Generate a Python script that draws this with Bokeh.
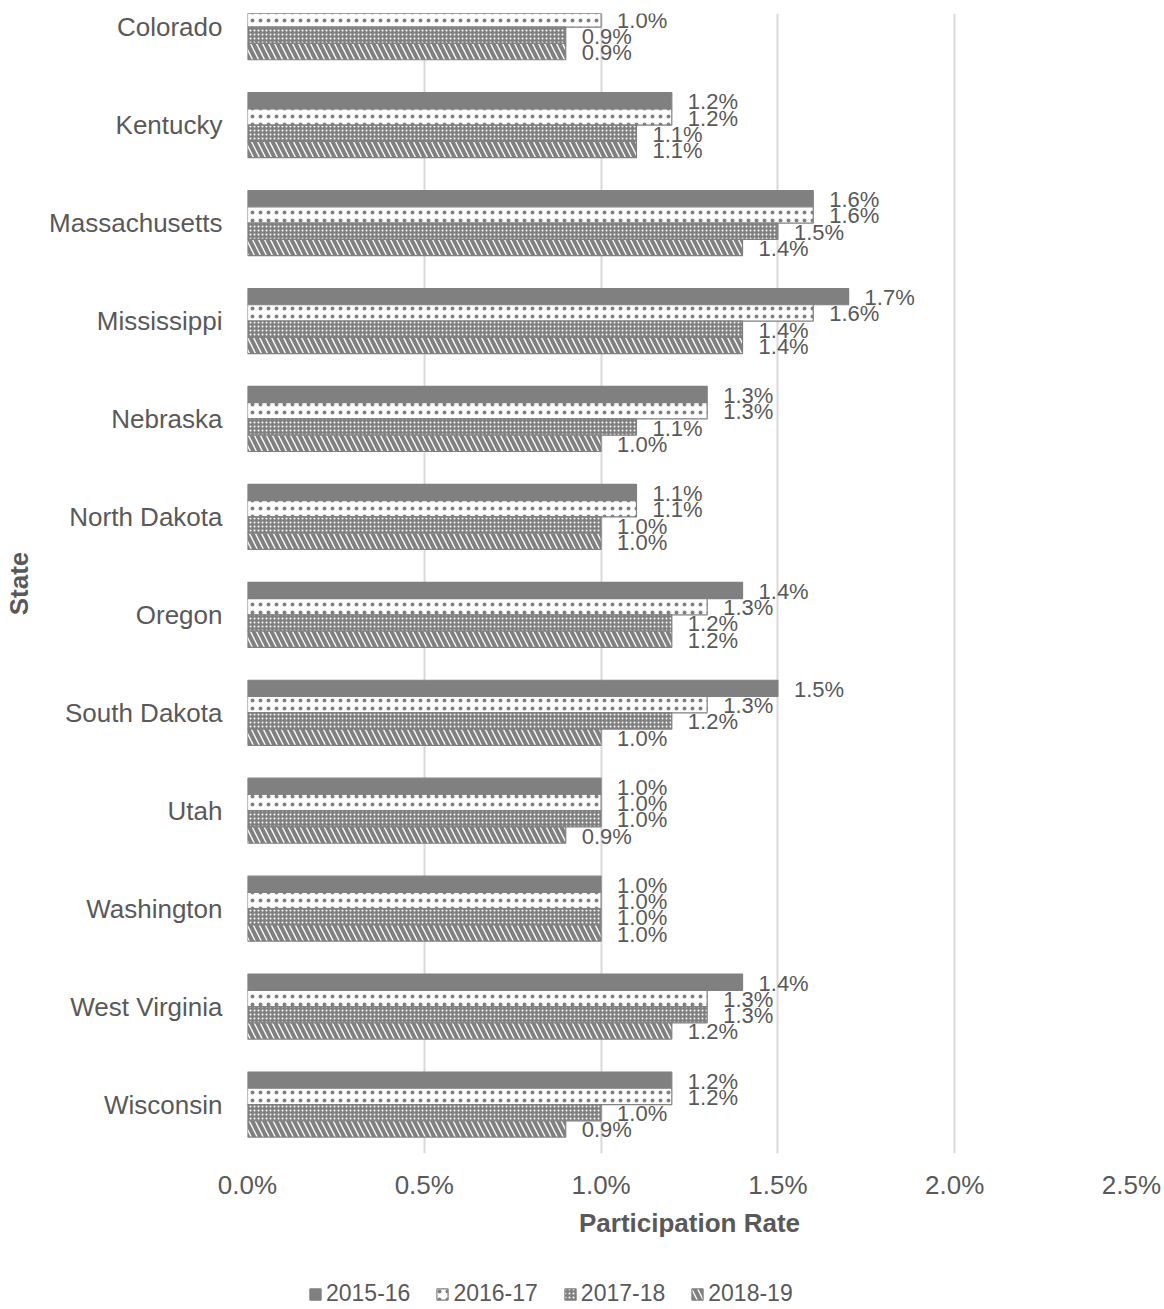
from bokeh.plotting import figure
from bokeh.layouts import column
from bokeh.models import (Range1d, FixedTicker, PrintfTickFormatter, Legend,
                          LegendItem, ColumnDataSource)
from bokeh.core.properties import value
from bokeh.embed import file_html
from bokeh.resources import INLINE

states = ["Colorado", "Kentucky", "Massachusetts", "Mississippi", "Nebraska",
          "North Dakota", "Oregon", "South Dakota", "Utah", "Washington",
          "West Virginia", "Wisconsin"]
series = ["2015-16", "2016-17", "2017-18", "2018-19"]
r2015 = [1.0, 1.2, 1.6, 1.7, 1.3, 1.1, 1.4, 1.5, 1.0, 1.0, 1.4, 1.2]
r2016 = [1.0, 1.2, 1.6, 1.6, 1.3, 1.1, 1.3, 1.3, 1.0, 1.0, 1.3, 1.2]
r2017 = [0.9, 1.1, 1.5, 1.4, 1.1, 1.0, 1.2, 1.2, 1.0, 1.0, 1.3, 1.0]
r2018 = [0.9, 1.1, 1.4, 1.4, 1.0, 1.0, 1.2, 1.0, 0.9, 1.0, 1.2, 0.9]
x_ticks = [0.0, 0.5, 1.0, 1.5, 2.0, 2.5]

GRAY = "#808080"
TEXT = "#595959"
FONT = "Liberation Sans"

n = len(states)
pos = [n - 1 - i for i in range(n)]  # Colorado at top
Y_TOP = 11.14

p = figure(width=1164, height=1260, output_backend="svg", toolbar_location=None,
           x_range=Range1d(0, 2.5), y_range=Range1d(-0.5, Y_TOP),
           min_border=0, min_border_left=247, min_border_right=33,
           min_border_top=13, min_border_bottom=107)
p.outline_line_color = None
p.background_fill_color = "white"
p.border_fill_color = "white"

bar_h = 0.166
styles = [
    dict(fill_color=GRAY),
    dict(fill_color="white", hatch_pattern="dot", hatch_color=GRAY,
         hatch_scale=8, hatch_weight=1.2),
    dict(fill_color=GRAY, hatch_pattern="dot", hatch_color="white",
         hatch_scale=4, hatch_weight=1.5),
    dict(fill_color="white", hatch_pattern="left_diagonal_line", hatch_color=GRAY,
         hatch_scale=12, hatch_weight=4),
]
all_vals = [r2015, r2016, r2017, r2018]

for i, (name, vals, st) in enumerate(zip(series, all_vals, styles)):
    off = (1.5 - i) * bar_h
    ys = [y + off for y in pos]
    src = ColumnDataSource(dict(y=ys, v=vals))
    p.hbar(y="y", left=0, right="v", height=bar_h, source=src,
           line_color=GRAY, line_width=1.2, **st)
    # labels only for bars that lie inside the visible plot area
    vis = [k for k, yy in enumerate(ys) if yy < Y_TOP - 0.05]
    lsrc = ColumnDataSource(dict(y=[ys[k] for k in vis], v=[vals[k] for k in vis],
                                 lab=["%.1f%%" % vals[k] for k in vis]))
    p.text(x="v", y="y", text="lab", source=lsrc, x_offset=16, y_offset=1,
           text_align="left", text_baseline="middle",
           text_font=value(FONT), text_font_size="22px", text_color=TEXT)

# axes
p.xaxis.ticker = FixedTicker(ticks=x_ticks)
p.xaxis.formatter = PrintfTickFormatter(format="%.1f%%")
p.xaxis.axis_line_color = None
p.xaxis.major_tick_line_color = None
p.xaxis.minor_tick_line_color = None
p.xaxis.major_label_standoff = 10
p.xaxis.major_label_text_font = FONT
p.xaxis.major_label_text_font_size = "26px"
p.xaxis.major_label_text_color = TEXT
p.xaxis.axis_label = "Participation Rate"
p.xaxis.axis_label_text_font = FONT
p.xaxis.axis_label_text_font_size = "26px"
p.xaxis.axis_label_text_font_style = "bold"
p.xaxis.axis_label_text_color = TEXT
p.xaxis.axis_label_standoff = 5

p.yaxis.ticker = FixedTicker(ticks=pos)
p.yaxis.major_label_overrides = {y: s for y, s in zip(pos, states)}
p.yaxis.axis_line_color = None
p.yaxis.major_tick_line_color = None
p.yaxis.minor_tick_line_color = None
p.yaxis.major_label_standoff = 19
p.yaxis.major_label_text_font = FONT
p.yaxis.major_label_text_font_size = "26px"
p.yaxis.major_label_text_color = TEXT
p.yaxis.axis_label = "State"
p.yaxis.axis_label_text_font = FONT
p.yaxis.axis_label_text_font_size = "26px"
p.yaxis.axis_label_text_font_style = "bold"
p.yaxis.axis_label_text_color = TEXT
p.yaxis.axis_label_standoff = 12

p.ygrid.grid_line_color = None
p.xgrid.ticker = FixedTicker(ticks=x_ticks)
p.xgrid.grid_line_color = "#d9d9d9"
p.xgrid.grid_line_width = 2

# legend strip below the chart
lg = figure(width=1164, height=49, output_backend="svg", toolbar_location=None,
            x_range=Range1d(0, 1), y_range=Range1d(0, 1),
            x_axis_type=None, y_axis_type=None, min_border=0)
lg.outline_line_color = None
lg.xgrid.visible = False
lg.ygrid.visible = False
items = []
for name, st in zip(series, styles):
    # a single off-screen bar so the legend swatch gets drawn
    r = lg.hbar(y="y", left=0, right="v", height=0.1,
                source=ColumnDataSource(dict(y=[-10], v=[0.0])),
                line_color=GRAY, line_width=1.2, **st)
    items.append(LegendItem(label=name, renderers=[r]))
legend = Legend(items=items, orientation="horizontal", location=(61, 2),
                margin=0, padding=0, spacing=25, label_standoff=4,
                glyph_width=14, glyph_height=14, label_height=20,
                label_text_font=FONT, label_text_font_size="23px",
                label_text_color=TEXT, border_line_color=None,
                background_fill_alpha=0)
lg.add_layout(legend, "center")

layout = column(p, lg, spacing=0)
open("out.html", "w").write(file_html(layout, INLINE))
